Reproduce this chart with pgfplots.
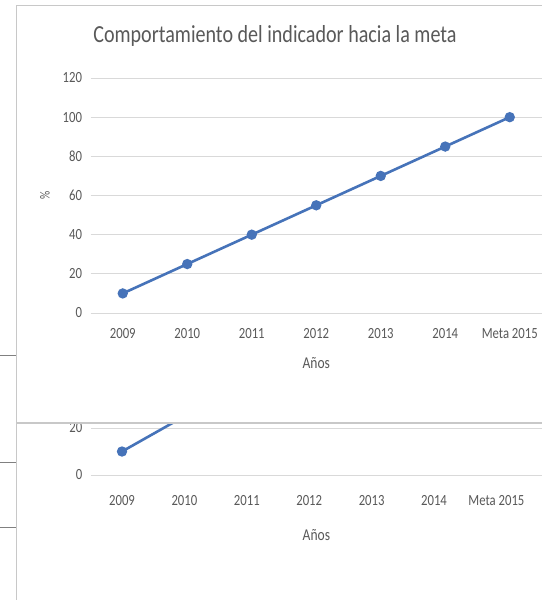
\documentclass[border=0pt]{standalone}
\usepackage{pgfplots}
\pgfplotsset{compat=1.18}
\usepackage{fontspec}
\setmainfont{Carlito}[FakeStretch=0.82]
\definecolor{lineblue}{RGB}{70,115,185}
\definecolor{txtgray}{RGB}{89,89,89}
\definecolor{gridgray}{RGB}{217,217,217}
\definecolor{framegray}{RGB}{200,200,200}
\pgfplotsset{
  mystyle/.style={
    scale only axis,
    axis line style={draw=none},
    tick style={draw=none},
    ymin=0, ymax=120,
    ytick={0,20,...,120},
    xtick={0,...,6},
    xticklabels={2009,2010,2011,2012,2013,2014,Meta 2015},
    xmin=-0.5,
    ymajorgrids,
    grid style={gridgray, line width=0.8pt},
    ticklabel style={text=txtgray, font=\fontsize{15.5}{17}\selectfont},
    yticklabel style={anchor=east, xshift=-5pt},
    label style={text=txtgray, font=\fontsize{16.5}{18}\selectfont},
    /pgf/number format/assume math mode=true,
    clip=false,
  }
}
\begin{document}
\begin{tikzpicture}[x=1pt,y=1pt]
\clip (0,0) rectangle (542,-600);
\fill[white] (0,0) rectangle (542,-600);
% upper chart
\begin{axis}[mystyle,
  at={(90.5pt,-313pt)}, anchor=south west,
  width=451.5pt, height=235pt, xmax=6.5,
  xlabel={Años}, ylabel={\%},
  xticklabel style={anchor=center, yshift=-21pt},
  xlabel style={at={(axis description cs:0.5,0)}, anchor=center, yshift=-50pt},
  ylabel style={at={(axis description cs:-0.1008,0.5)}, anchor=center, font=\fontsize{14}{16}\selectfont},
  title={Comportamiento del indicador hacia la meta},
  title style={text=txtgray, font=\fontsize{24.5}{27}\selectfont, at={(axis description cs:0.4086,1.153)}, anchor=center},
]
\addplot[lineblue, line width=2.6pt, mark=*, mark size=3.8pt, mark options={fill=lineblue, draw=lineblue}]
  coordinates {(0,10) (1,25) (2,40) (3,55) (4,70) (5,85) (6,100)};
\end{axis}
% lower partial chart
\begin{scope}
\clip (16,-423) rectangle (542,-600);
\fill[white] (16,-423) rectangle (542,-600);
\begin{axis}[mystyle,
  at={(90.8pt,-475pt)}, anchor=south west,
  width=451.2pt, height=282pt, xmax=6.73,
  xlabel={Años},
  xticklabel style={anchor=center, yshift=-26pt},
  xlabel style={at={(axis description cs:0.5,0)}, anchor=center, yshift=-60pt},
]
\addplot[lineblue, line width=2.6pt, mark=*, mark size=3.8pt, mark options={fill=lineblue, draw=lineblue}]
  coordinates {(0,10) (1,25) (2,40) (3,55) (4,70) (5,85) (6,100)};
\end{axis}
\end{scope}
% frames
\draw[framegray, line width=1.2pt] (16.5,-600) -- (16.5,-5.5) -- (542,-5.5);
\draw[framegray, line width=1.2pt] (16.5,-423) -- (542,-423);
\draw[gray, line width=0.8pt] (0,-355) -- (16,-355);
\draw[gray, line width=0.8pt] (0,-462) -- (16,-462);
\draw[gray, line width=0.8pt] (0,-527) -- (16,-527);
\end{tikzpicture}
\end{document}
